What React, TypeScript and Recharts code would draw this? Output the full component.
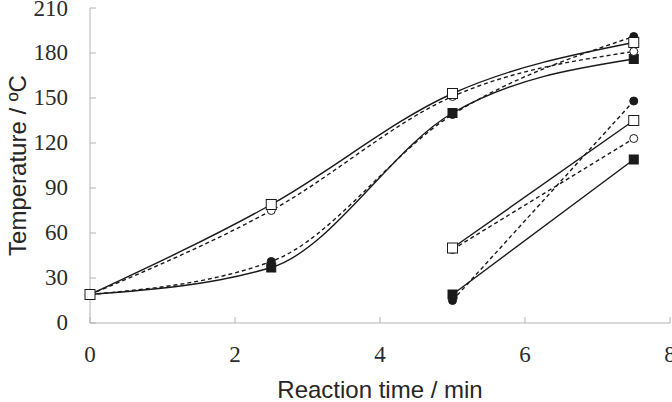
import { LineChart, Line, XAxis, YAxis } from 'recharts'

// Sampling times (min) for the full heating runs and for the late-start runs
const times = [0, 2.5, 5, 7.5]
const lateTimes = [5, 7.5]

// Temperatures (°C), full runs
const openSquareFull = [19, 79, 153, 187]
const openCircleFull = [19, 75, 151, 181]
const filledSquareFull = [19, 37, 140, 176]
const filledCircleFull = [19, 41, 139, 191]

// Temperatures (°C), runs started at 5 min
const openSquareLate = [50, 135]
const openCircleLate = [49, 123]
const filledSquareLate = [19, 109]
const filledCircleLate = [15, 148]

const xTicks = [0, 2, 4, 6, 8]
const yTicks = [0, 30, 60, 90, 120, 150, 180, 210]

const toPoints = (xs: number[], ys: number[]) => xs.map((x, i) => ({ x, y: ys[i] }))

const INK = '#1a1a1a'
const AXIS = '#b3b3b3'
const SERIF = 'Liberation Serif'
const SANS = 'Liberation Sans'

type Marker = 'openSquare' | 'filledSquare' | 'openCircle' | 'filledCircle'

const renderMarker = (kind: Marker) => (props: any) => {
  const { cx, cy, key } = props
  if (cx == null || cy == null) return <g key={key} />
  const fill = kind.startsWith('open') ? '#ffffff' : INK
  if (kind.endsWith('Square')) {
    const s = kind === 'openSquare' ? 10 : 9
    return <rect key={key} x={cx - s / 2} y={cy - s / 2} width={s} height={s} fill={fill} stroke={INK} strokeWidth={1} />
  }
  return <circle key={key} cx={cx} cy={cy} r={4} fill={fill} stroke={INK} strokeWidth={1} />
}

const series: { data: number[]; xs: number[]; marker: Marker; dashed: boolean; smooth: boolean }[] = [
  { data: filledCircleFull, xs: times, marker: 'filledCircle', dashed: true, smooth: true },
  { data: filledSquareFull, xs: times, marker: 'filledSquare', dashed: false, smooth: true },
  { data: openCircleFull, xs: times, marker: 'openCircle', dashed: true, smooth: true },
  { data: openSquareFull, xs: times, marker: 'openSquare', dashed: false, smooth: true },
  { data: filledCircleLate, xs: lateTimes, marker: 'filledCircle', dashed: true, smooth: false },
  { data: filledSquareLate, xs: lateTimes, marker: 'filledSquare', dashed: false, smooth: false },
  { data: openCircleLate, xs: lateTimes, marker: 'openCircle', dashed: true, smooth: false },
  { data: openSquareLate, xs: lateTimes, marker: 'openSquare', dashed: false, smooth: false },
]

// tick labels in a Times-like face
const XTick = ({ x, y, payload }: any) => (
  <text x={x} y={y + 16} textAnchor="middle" style={{ fontFamily: SERIF, fontSize: 23 }} fill="#2b2b2b">
    {payload.value}
  </text>
)

const YTick = ({ x, y, payload }: any) => (
  <text x={x} y={y + 7} textAnchor="end" style={{ fontFamily: SERIF, fontSize: 23 }} fill="#2b2b2b">
    {payload.value}
  </text>
)

const titleFont = { fontFamily: SANS, fontSize: 24, fill: '#262626' }

export default function App() {
  return (
    <div style={{ position: 'absolute', left: 0, top: 0, width: 672, height: 402, overflow: 'hidden', background: '#ffffff' }}>
      <LineChart width={690} height={402} margin={{ top: 8, right: 20, left: 0, bottom: 0 }}>
        <XAxis
          dataKey="x"
          type="number"
          domain={[0, 8]}
          ticks={xTicks}
          allowDuplicatedCategory={false}
          height={79}
          stroke={AXIS}
          tickSize={-6}
          tickMargin={29}
          tick={<XTick />}
          label={{ value: 'Reaction time / min', position: 'insideBottom', offset: 4, style: titleFont }}
        />
        <YAxis
          type="number"
          domain={[0, 210]}
          ticks={yTicks}
          width={90}
          stroke={AXIS}
          tickSize={-6}
          tickMargin={28}
          tick={<YTick />}
          label={{
            value: 'Temperature / ºC',
            angle: -90,
            position: 'insideLeft',
            offset: 17,
            style: { ...titleFont, textAnchor: 'middle' },
          }}
        />
        {series.map((s, i) => (
          <Line
            key={i}
            data={toPoints(s.xs, s.data)}
            dataKey="y"
            type={s.smooth ? 'monotone' : 'linear'}
            stroke={INK}
            strokeWidth={1.4}
            strokeDasharray={s.dashed ? '4 3' : undefined}
            dot={renderMarker(s.marker)}
            activeDot={false}
            isAnimationActive={false}
          />
        ))}
      </LineChart>
    </div>
  )
}
